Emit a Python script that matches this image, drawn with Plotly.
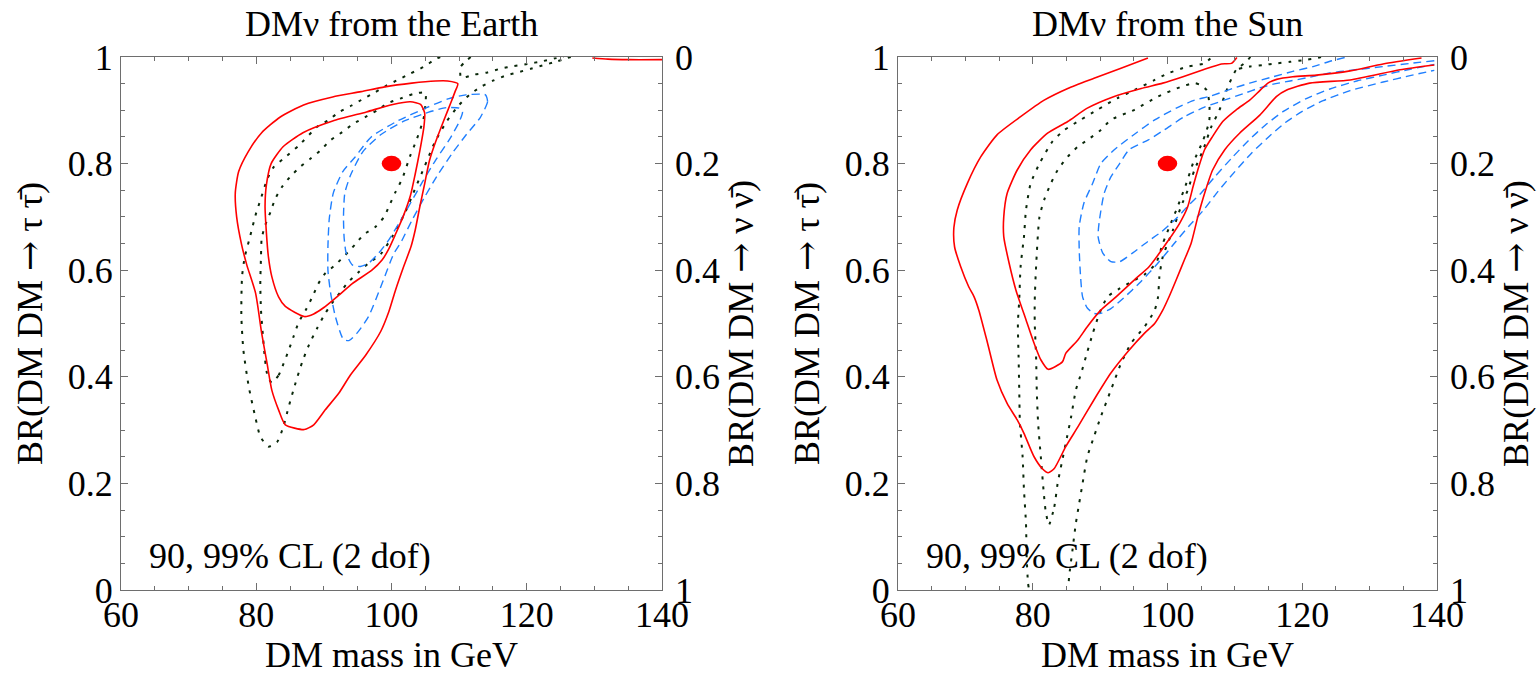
import plotly.graph_objects as go

# ---------------- axis ticks ----------------
mass_ticks = [60, 80, 100, 120, 140]
br_ticks = [0, 0.2, 0.4, 0.6, 0.8, 1]
br_tick_text = ["0", "0.2", "0.4", "0.6", "0.8", "1"]

ARROW = "<span style='font-family:DejaVu Serif'>\u2192</span>"
panel_titles = ["DM\u03bd from the Earth", "DM\u03bd from the Sun"]
x_title = "DM mass in GeV"
y_left_title = "BR(DM DM " + ARROW + " \u03c4 \u03c4\u0304)"
y_right_title = "BR(DM DM " + ARROW + " \u03bd \u03bd\u0304)"
cl_label = "90, 99% CL (2 dof)"

best_fit_mass = [100]
best_fit_br = [0.8]

# ---------------- Earth panel ----------------
earth_red99_m = [109.8, 108.3, 106.5, 103.0, 99.0, 95.5, 91.3, 87.0, 83.5, 80.8, 78.8, 77.4, 76.9, 77.1, 77.8, 78.6,
                 79.9, 80.8, 81.6, 82.3, 83.3, 84.3, 87.1, 88.5, 90.2, 92.2, 93.9, 96.2, 98.4, 99.6, 100.6, 101.8,
                 102.9, 103.5, 104.2, 104.9, 105.6, 106.5, 107.7, 108.8, 109.4, 109.8]
earth_red99_b = [0.950, 0.955, 0.955, 0.951, 0.944, 0.935, 0.925, 0.910, 0.887, 0.858, 0.822, 0.785, 0.745, 0.700,
                 0.650, 0.610, 0.557, 0.482, 0.425, 0.375, 0.338, 0.310, 0.301, 0.310, 0.338, 0.369, 0.403, 0.441,
                 0.485, 0.522, 0.563, 0.607, 0.645, 0.675, 0.720, 0.762, 0.805, 0.840, 0.880, 0.915, 0.935, 0.950]

earth_red90_m = [104.9, 104.3, 102.8, 100.2, 96.3, 91.3, 86.9, 84.0, 82.2, 81.5, 81.3, 81.5, 81.8, 82.3, 83.3, 84.3,
                 87.1, 88.5, 90.0, 92.2, 94.2, 97.1, 98.6, 99.6, 100.5, 101.7, 102.8, 103.5, 104.2, 104.8, 104.9]
earth_red90_b = [0.895, 0.911, 0.916, 0.911, 0.897, 0.880, 0.858, 0.832, 0.800, 0.760, 0.720, 0.670, 0.625, 0.588,
                 0.550, 0.532, 0.513, 0.518, 0.530, 0.553, 0.575, 0.600, 0.619, 0.640, 0.665, 0.700, 0.740, 0.780,
                 0.825, 0.870, 0.895]

earth_red_edge_m = [129.7, 132.0, 135.0, 140.0]
earth_red_edge_b = [0.998, 0.996, 0.995, 0.995]

earth_blue99_m = [113.9, 114.2, 113.1, 111.1, 108.9, 106.7, 104.8, 103.0, 101.5, 100.3, 98.6, 96.6, 94.9, 93.7, 92.9,
                  91.7, 91.0, 90.6, 90.6, 90.8, 91.4, 92.8, 94.6, 97.0, 100.9, 105.2, 108.5, 111.0, 113.9]
earth_blue99_b = [0.929, 0.916, 0.886, 0.855, 0.818, 0.776, 0.735, 0.693, 0.655, 0.630, 0.575, 0.513, 0.482, 0.468,
                  0.470, 0.513, 0.557, 0.600, 0.645, 0.697, 0.745, 0.785, 0.812, 0.850, 0.880, 0.905, 0.922, 0.929,
                  0.929]

earth_blue90_m = [110.5, 110.0, 108.1, 105.4, 101.9, 98.5, 95.8, 94.0, 93.1, 92.9, 93.0, 93.3, 94.2, 95.4, 96.6, 98.1,
                  99.5, 101.2, 102.9, 104.6, 106.6, 108.6, 110.0, 110.5]
earth_blue90_b = [0.897, 0.904, 0.905, 0.896, 0.880, 0.855, 0.823, 0.780, 0.745, 0.700, 0.660, 0.632, 0.610, 0.607,
                  0.613, 0.632, 0.655, 0.690, 0.728, 0.766, 0.808, 0.846, 0.878, 0.897]

earth_dot99_m = [107.2, 106.5, 104.7, 102.8, 101.1, 99.2, 97.6, 95.9, 94.1, 92.3, 90.6, 89.0, 86.3, 84.0, 82.6, 81.6,
                 80.6, 80.0, 79.5, 79.0, 78.3, 77.9, 77.8, 78.1, 78.9, 79.85, 80.6, 81.8, 83.1, 84.0, 84.8, 85.8,
                 86.8, 87.8, 89.0, 90.2, 91.2, 92.5, 93.7, 95.2, 96.6, 98.4, 100.2, 101.9, 103.4, 104.9, 106.4, 108.2,
                 110.0, 111.5, 113.2, 115.1, 117.1, 118.6, 120.6, 122.3, 124.5, 126.5]
earth_dot99_b = [1.000, 0.996, 0.981, 0.969, 0.958, 0.946, 0.934, 0.922, 0.909, 0.897, 0.881, 0.869, 0.834, 0.809,
                 0.794, 0.770, 0.731, 0.708, 0.684, 0.659, 0.625, 0.588, 0.513, 0.450, 0.381, 0.325, 0.288, 0.269,
                 0.278, 0.306, 0.344, 0.388, 0.428, 0.460, 0.491, 0.519, 0.538, 0.560, 0.579, 0.597, 0.613, 0.630,
                 0.665, 0.705, 0.750, 0.795, 0.840, 0.880, 0.910, 0.929, 0.944, 0.956, 0.966, 0.971, 0.978, 0.984,
                 0.992, 1.000]

earth_dot90_m = [82.3, 83.3, 84.05, 84.8, 85.5, 86.3, 87.3, 88.3, 89.2, 90.2, 91.7, 93.2, 94.6, 95.9, 97.6, 98.9,
                 99.7, 100.6, 101.6, 102.8, 103.6, 104.3, 104.8, 105.0, 105.0, 103.3, 101.3, 99.4, 97.9, 96.1, 94.4,
                 92.7, 91.0, 89.5, 88.0, 86.5, 85.0, 83.8, 82.8, 82.1, 81.3, 80.8, 80.7, 80.6, 80.7, 81.0, 81.3,
                 81.7, 82.3]
earth_dot90_b = [0.389, 0.403, 0.425, 0.450, 0.475, 0.503, 0.525, 0.550, 0.575, 0.594, 0.610, 0.629, 0.648, 0.667,
                 0.681, 0.700, 0.722, 0.747, 0.772, 0.816, 0.841, 0.866, 0.888, 0.909, 0.933, 0.931, 0.922, 0.913,
                 0.900, 0.887, 0.875, 0.859, 0.844, 0.825, 0.809, 0.794, 0.775, 0.756, 0.734, 0.709, 0.684, 0.659,
                 0.625, 0.575, 0.525, 0.475, 0.432, 0.400, 0.389]

earth_dot_top_m = [111.7, 110.8, 110.2, 110.3, 112.2, 114.2, 116.1, 118.1, 120.1, 122.3, 124.0, 125.5]
earth_dot_top_b = [1.000, 0.990, 0.981, 0.961, 0.967, 0.971, 0.978, 0.983, 0.987, 0.992, 0.997, 1.000]

# ---------------- Sun panel ----------------
sun_red99_m = [97.1, 93.1, 89.1, 85.2, 81.7, 78.2, 74.7, 72.3, 70.3, 68.8, 68.3, 68.4, 69.3, 70.5, 71.3, 72.0, 73.3,
               74.7, 76.2, 77.7, 78.7, 80.2, 81.4, 82.3, 83.2, 84.9, 86.7, 89.1, 91.6, 94.1, 96.6, 98.1, 99.3, 100.3,
               101.3, 102.5, 103.5, 104.5, 105.5, 106.7, 108.5, 110.7, 113.7, 116.2, 117.7, 121.1, 127.1, 134.5,
               139.6]
sun_red99_b = [0.998, 0.979, 0.960, 0.941, 0.919, 0.888, 0.854, 0.813, 0.763, 0.713, 0.680, 0.644, 0.607, 0.569,
               0.550, 0.525, 0.463, 0.394, 0.350, 0.319, 0.294, 0.250, 0.228, 0.220, 0.228, 0.269, 0.306, 0.357,
               0.407, 0.447, 0.482, 0.500, 0.525, 0.552, 0.582, 0.619, 0.650, 0.700, 0.744, 0.788, 0.826, 0.857,
               0.891, 0.926, 0.938, 0.951, 0.957, 0.976, 0.985]

sun_red90_m = [110.3, 109.5, 108.0, 105.3, 102.3, 99.3, 96.1, 92.1, 88.1, 85.2, 82.2, 79.7, 77.7, 76.2, 75.7, 75.7,
               76.5, 77.5, 79.0, 80.2, 81.2, 82.3, 84.4, 84.9, 86.7, 88.1, 90.1, 92.1, 95.1, 97.3, 99.8, 101.8,
               103.0, 103.8, 104.5, 105.5, 106.7, 108.2, 110.2, 112.2, 113.7, 114.9, 116.2, 118.6, 122.1, 127.1,
               132.0, 137.7]
sun_red90_b = [0.999, 0.988, 0.987, 0.976, 0.963, 0.951, 0.941, 0.926, 0.904, 0.879, 0.857, 0.826, 0.788, 0.744,
               0.700, 0.663, 0.613, 0.563, 0.507, 0.463, 0.432, 0.414, 0.428, 0.444, 0.469, 0.494, 0.525, 0.547,
               0.582, 0.607, 0.650, 0.688, 0.719, 0.757, 0.788, 0.826, 0.851, 0.879, 0.901, 0.919, 0.937, 0.951,
               0.958, 0.963, 0.966, 0.974, 0.987, 0.998]

sun_blue99_m = [126.3, 124.4, 121.6, 118.6, 115.7, 112.2, 109.7, 106.2, 104.0, 101.3, 98.1, 95.3, 92.1, 90.1, 88.9,
                87.6, 86.9, 86.9, 87.1, 87.4, 88.1, 89.1, 90.1, 91.6, 93.5, 96.0, 98.5, 101.0, 103.2, 105.3, 107.5,
                110.0, 112.5, 115.0, 117.5, 120.0, 123.1, 127.1, 132.0, 136.0, 139.6]
sun_blue99_b = [0.999, 0.993, 0.982, 0.973, 0.963, 0.951, 0.941, 0.926, 0.919, 0.904, 0.882, 0.857, 0.826, 0.800,
                0.763, 0.726, 0.682, 0.638, 0.588, 0.550, 0.529, 0.519, 0.519, 0.528, 0.548, 0.578, 0.612, 0.650,
                0.683, 0.712, 0.748, 0.785, 0.820, 0.850, 0.877, 0.898, 0.918, 0.937, 0.953, 0.965, 0.975]

sun_blue90_m = [139.6, 136.0, 132.0, 127.1, 124.1, 121.1, 118.2, 115.7, 113.7, 111.2, 108.2, 105.5, 102.5, 99.5,
                97.1, 94.3, 92.9, 91.6, 90.6, 89.9, 89.7, 90.4, 91.6, 92.9, 94.8, 97.1, 99.1, 101.3, 103.0, 105.0,
                107.0, 109.5, 112.0, 114.5, 117.2, 120.6, 124.1, 128.1, 132.0, 136.0, 139.6]
sun_blue90_b = [0.993, 0.988, 0.982, 0.975, 0.970, 0.962, 0.955, 0.949, 0.942, 0.931, 0.918, 0.906, 0.888, 0.863,
                0.844, 0.826, 0.800, 0.775, 0.744, 0.694, 0.663, 0.632, 0.616, 0.616, 0.632, 0.654, 0.672, 0.697,
                0.720, 0.745, 0.775, 0.810, 0.843, 0.872, 0.898, 0.922, 0.940, 0.955, 0.966, 0.977, 0.986]

sun_dot99_left_m = [79.4, 79.3, 79.1, 79.0, 78.7, 78.5, 78.1, 78.0, 77.9, 77.8, 78.0, 78.2, 78.7, 79.0, 79.7, 81.0,
                    82.9, 84.7, 87.1, 89.6, 92.6, 95.1, 98.1, 100.0, 103.0, 105.5, 106.6]
sun_dot99_left_b = [0.005, 0.013, 0.063, 0.125, 0.188, 0.250, 0.313, 0.375, 0.438, 0.500, 0.544, 0.607, 0.663,
                    0.713, 0.763, 0.800, 0.841, 0.863, 0.882, 0.901, 0.923, 0.938, 0.957, 0.969, 0.982, 0.988, 1.000]

sun_dot99_right_m = [112.3, 111.7, 110.2, 109.2, 108.4, 107.7, 106.5, 105.3, 104.0, 103.0, 102.0, 100.8, 99.3, 98.8,
                     98.6, 98.1, 96.6, 94.6, 93.1, 91.6, 90.1, 89.1, 88.1, 87.4, 86.9, 86.4, 85.9, 85.4, 85.3]
sun_dot99_right_b = [1.000, 0.991, 0.976, 0.951, 0.925, 0.900, 0.869, 0.826, 0.788, 0.750, 0.719, 0.675, 0.625,
                     0.588, 0.550, 0.525, 0.494, 0.463, 0.425, 0.375, 0.325, 0.288, 0.250, 0.200, 0.163, 0.125,
                     0.075, 0.025, 0.005]

sun_dot90_m = [82.4, 83.2, 83.7, 84.3, 84.9, 85.7, 86.4, 87.2, 87.9, 88.9, 89.9, 91.1, 92.8, 94.6, 96.6, 98.3, 99.3,
               100.5, 101.5, 102.8, 103.8, 105.3, 106.2, 106.2, 105.8, 104.8, 104.0, 102.0, 98.6, 95.1, 91.6, 90.1,
               88.1, 86.7, 85.2, 83.7, 82.7, 81.7, 81.0, 80.5, 80.3, 80.3, 80.5, 80.6, 80.8, 81.2, 81.6, 81.9, 82.4]
sun_dot90_b = [0.122, 0.156, 0.200, 0.238, 0.275, 0.325, 0.375, 0.407, 0.438, 0.481, 0.519, 0.550, 0.565, 0.578,
               0.592, 0.613, 0.650, 0.688, 0.719, 0.763, 0.801, 0.844, 0.880, 0.915, 0.938, 0.948, 0.951, 0.944,
               0.926, 0.901, 0.882, 0.863, 0.844, 0.832, 0.813, 0.788, 0.763, 0.732, 0.700, 0.607, 0.544, 0.500,
               0.438, 0.375, 0.313, 0.250, 0.188, 0.150, 0.122]

sun_dot_top_m = [110.6, 112.2, 114.2, 116.2, 118.2, 120.1, 122.1, 122.8]
sun_dot_top_b = [0.978, 0.982, 0.985, 0.988, 0.991, 0.994, 0.998, 1.000]

# ---------------- styles ----------------
RED = "#ff0000"
BLUE = "#1f7fff"
DOT = "#0a280a"
FONT = "Liberation Serif"
FRAME = "#6e6e6e"

red_line = dict(color=RED, width=1.6, shape="spline", smoothing=0.6)
blue_line = dict(color=BLUE, width=1.4, dash="8px,5px", shape="spline", smoothing=0.6)
dot_line = dict(color=DOT, width=2.0, dash="3px,7px", shape="spline", smoothing=0.6)

fig = go.Figure()


def add(xs, ys, line, xa, ya):
    fig.add_trace(go.Scatter(x=xs, y=ys, mode="lines", line=line, xaxis=xa, yaxis=ya,
                             hoverinfo="skip", showlegend=False))


panels = [
    ("x", "y", "y3", [
        (earth_dot99_m, earth_dot99_b, dot_line),
        (earth_dot90_m, earth_dot90_b, dot_line),
        (earth_dot_top_m, earth_dot_top_b, dot_line),
        (earth_blue99_m, earth_blue99_b, blue_line),
        (earth_blue90_m, earth_blue90_b, blue_line),
        (earth_red99_m, earth_red99_b, red_line),
        (earth_red90_m, earth_red90_b, red_line),
        (earth_red_edge_m, earth_red_edge_b, red_line),
    ]),
    ("x2", "y2", "y4", [
        (sun_dot99_left_m, sun_dot99_left_b, dot_line),
        (sun_dot99_right_m, sun_dot99_right_b, dot_line),
        (sun_dot90_m, sun_dot90_b, dot_line),
        (sun_dot_top_m, sun_dot_top_b, dot_line),
        (sun_blue99_m, sun_blue99_b, blue_line),
        (sun_blue90_m, sun_blue90_b, blue_line),
        (sun_red99_m, sun_red99_b, red_line),
        (sun_red90_m, sun_red90_b, red_line),
    ]),
]

for xa, ya, ya_r, curves in panels:
    for xs, ys, ln in curves:
        add(xs, ys, ln, xa, ya)
    # placeholder trace so the right-hand axis is drawn
    fig.add_trace(go.Scatter(x=[None], y=[None], mode="lines", xaxis=xa, yaxis=ya_r,
                             hoverinfo="skip", showlegend=False))

# best-fit point drawn as an ellipse in data coordinates
DOT_HALF_W = 1.45   # GeV
DOT_HALF_H = 0.0145  # BR
for xref, yref in [("x", "y"), ("x2", "y2")]:
    for m, b in zip(best_fit_mass, best_fit_br):
        fig.add_shape(type="circle", xref=xref, yref=yref,
                      x0=m - DOT_HALF_W, x1=m + DOT_HALF_W, y0=b - DOT_HALF_H, y1=b + DOT_HALF_H,
                      fillcolor=RED, line=dict(width=0))

tick_font = dict(family=FONT, size=36, color="black")
title_font = dict(family=FONT, size=36, color="black")
label_font = dict(family=FONT, size=36, color="black")

xaxis_common = dict(range=[60, 140], tickvals=mass_ticks, ticks="inside", ticklen=7, tickcolor=FRAME,
                    showline=True, linecolor=FRAME, linewidth=1.2, mirror="ticks", showgrid=False,
                    zeroline=False, tickfont=tick_font, ticklabelstandoff=-7,
                    minor=dict(dtick=5, ticks="inside", ticklen=4, tickcolor=FRAME),
                    title=dict(text=x_title, font=title_font, standoff=0))
yaxis_common = dict(range=[0, 1], tickvals=br_ticks, ticktext=br_tick_text, ticks="inside", ticklen=7,
                    tickcolor=FRAME, showline=True, linecolor=FRAME, linewidth=1.2, mirror="ticks",
                    showgrid=False, zeroline=False, tickfont=tick_font,
                    minor=dict(dtick=0.05, ticks="inside", ticklen=4, tickcolor=FRAME),
                    title=dict(text=y_left_title, font=title_font, standoff=14))
yaxis_right = dict(range=[1, 0], tickvals=br_ticks, ticktext=br_tick_text, ticks="", side="right",
                   showline=False, showgrid=False, zeroline=False, tickfont=tick_font, ticklabelstandoff=12,
                   title=dict(text=y_right_title, font=title_font, standoff=8))

left_dom = [0.0, 0.4111]
right_dom = [0.5904, 1.0]

fig.update_layout(
    width=1538, height=677,
    margin=dict(l=121, r=101, t=57, b=87, autoexpand=False),
    paper_bgcolor="white", plot_bgcolor="white",
    font=dict(family=FONT, color="black"),
    hovermode=False,
    xaxis=dict(domain=left_dom, anchor="y", **xaxis_common),
    xaxis2=dict(domain=right_dom, anchor="y2", **xaxis_common),
    yaxis=dict(domain=[0, 1], anchor="x", **yaxis_common),
    yaxis2=dict(domain=[0, 1], anchor="x2", **yaxis_common),
    yaxis3=dict(overlaying="y", anchor="x", **yaxis_right),
    yaxis4=dict(overlaying="y2", anchor="x2", **yaxis_right),
)

for dom, ttl, xr, yr in [(left_dom, panel_titles[0], "x", "y"), (right_dom, panel_titles[1], "x2", "y2")]:
    fig.add_annotation(text=ttl, xref="paper", yref="paper", x=(dom[0] + dom[1]) / 2, y=1.062,
                       xanchor="center", yanchor="middle", showarrow=False, font=title_font)
    fig.add_annotation(text=cl_label, xref=xr, yref=yr, x=63.9, y=0.064, xanchor="left", yanchor="middle",
                       showarrow=False, font=label_font)

# remove the browser's default page margin so the figure sits at the window origin
fig.write_html("out.html", config={"displayModeBar": False},
               post_script="document.body.style.margin='0';")
